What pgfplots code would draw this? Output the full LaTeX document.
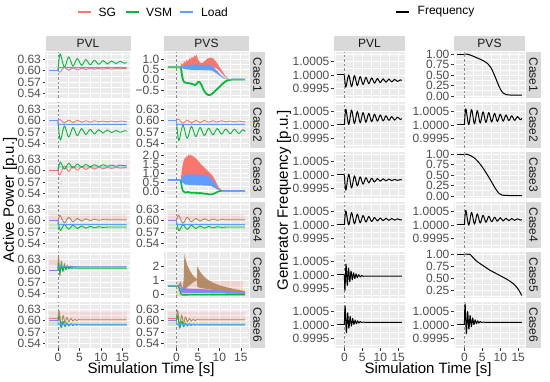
\documentclass[border=0pt]{standalone}
\usepackage{pgfplots}
\pgfplotsset{compat=1.18}
\usepackage{fontspec}
\setmainfont{Liberation Sans}
\definecolor{pbg}{HTML}{EBEBEB}
\definecolor{sbg}{HTML}{D9D9D9}
\definecolor{tlc}{HTML}{4D4D4D}
\definecolor{tickc}{HTML}{333333}
\definecolor{stc}{HTML}{1A1A1A}
\definecolor{dashc}{HTML}{8A8A8A}
\definecolor{sg}{HTML}{F8766D}
\definecolor{vsm}{HTML}{00BA38}
\definecolor{ld}{HTML}{619CFF}
\definecolor{mix}{HTML}{B0845A}
\definecolor{purp}{HTML}{8E80F0}
\newcommand{\tickfont}{\fontsize{12}{12}\selectfont}
\newcommand{\sfont}{\fontsize{12}{12}\selectfont}
\newcommand{\tfont}{\fontsize{15}{15}\selectfont}
\pgfplotsset{
 pan/.style={scale only axis, anchor=north west, height=46pt,
   xmin=-2.9, xmax=16.9,
   axis background/.style={fill=pbg},
   axis line style={draw=none},
   xtick={0,5,10,15}, minor xtick={-2.5,2.5,7.5,12.5}, xticklabels={},
   xmajorgrids=true, ymajorgrids=true, xminorgrids=true, yminorgrids=true,
   major grid style={draw=white, line width=0.8pt},
   minor grid style={draw=white, line width=0.4pt},
   tick align=outside, tick pos=left,
   major tick length=2.8pt, minor tick length=0pt,
   tick style={draw=tickc, line width=0.6pt},
   xtick style={draw=none},
   scaled y ticks=false, scaled x ticks=false,
   yticklabel style={font=\tickfont, text=tlc, inner sep=0pt, text height=8.4pt, text depth=0pt, xshift=-1.6pt},
   xticklabel style={font=\tickfont, text=tlc, inner sep=0pt, text height=8.4pt, text depth=0pt, yshift=-1.8pt},
   extra x ticks={0}, extra x tick labels={},
   extra x tick style={xmajorgrids=true, major grid style={draw=dashc, dash pattern=on 2.5pt off 2pt, line width=0.6pt}, major tick length=0pt},
 },
 bot/.style={xticklabels={0,5,10,15}, xtick style={draw=tickc, line width=0.6pt}},
 lw/.style={width=85pt}, rw/.style={width=71pt},
 ln/.style={line width=0.9pt, line join=round},
 fl/.style={black, line width=1pt, line join=round},
 pw/.style={ymin=0.527, ymax=0.65, ytick={0.54,0.57,0.6,0.63}, yticklabels={0.54,0.57,0.60,0.63}, minor ytick={0.555,0.585,0.615,0.645}},
 fq/.style={ymin=0.99915, ymax=1.00085, ytick={0.9995,1,1.0005}, yticklabels={0.9995,1.0000,1.0005}, minor ytick={0.99925,0.99975,1.00025,1.00075}},
 fs/.style={ymin=-0.05, ymax=1.05, ytick={0,0.25,0.5,0.75,1}, yticklabels={0.00,0.25,0.50,0.75,1.00}, minor ytick={0.125,0.375,0.625,0.875}},
}
\newcommand{\tstrip}[3]{\fill[sbg] (#1pt,331pt) rectangle ({(#1+#2)*1pt},346pt); \node[font=\sfont,text=stc] at ({(#1+#2/2)*1pt},338.5pt) {#3};}
\newcommand{\rstrip}[3]{\fill[sbg] (#1pt,{(#2-46)*1pt}) rectangle ({(#1+15)*1pt},#2pt); \node[font=\sfont,text=stc,rotate=-90] at ({(#1+7.5)*1pt},{(#2-23)*1pt}) {#3};}
\begin{document}
\begin{tikzpicture}
\path[use as bounding box] (0pt,0pt) rectangle (550pt,382pt);
% ---------------- legends and titles
\draw[draw=sg, line width=1.5pt] (77.5pt,370pt) -- (90.5pt,370pt);
\node[anchor=west, font=\sfont, inner sep=0pt] at (98.5pt,370pt) {SG};
\draw[draw=vsm, line width=1.5pt] (126pt,370pt) -- (139pt,370pt);
\node[anchor=west, font=\sfont, inner sep=0pt] at (146pt,370pt) {VSM};
\draw[draw=ld, line width=1.5pt] (180pt,370pt) -- (193pt,370pt);
\node[anchor=west, font=\sfont, inner sep=0pt] at (201pt,370pt) {Load};
\draw[draw=black, line width=1.5pt] (395.5pt,370pt) -- (408.5pt,370pt);
\node[anchor=west, font=\sfont, inner sep=0pt] at (417.5pt,370pt) {Frequency};
\node[font=\tfont, inner sep=0pt] at (151pt,12pt) {Simulation Time [s]};
\node[font=\tfont, inner sep=0pt] at (428pt,12pt) {Simulation Time [s]};
\node[font=\tfont, rotate=90, inner sep=0pt] at (10pt,182pt) {Active Power [p.u.]};
\node[font=\tfont, rotate=90, inner sep=0pt] at (284pt,182pt) {Generator Frequency [p.u.]};
% strips
\tstrip{45.5}{85}{PVL}
\tstrip{164}{85}{PVS}
\tstrip{334}{71}{PVL}
\tstrip{454}{71}{PVS}
\rstrip{250}{330}{Case1}\rstrip{250}{280}{Case2}\rstrip{250}{230}{Case3}
\rstrip{250}{180}{Case4}\rstrip{250}{130}{Case5}\rstrip{250}{80}{Case6}
\rstrip{526}{330}{Case1}\rstrip{526}{280}{Case2}\rstrip{526}{230}{Case3}
\rstrip{526}{180}{Case4}\rstrip{526}{130}{Case5}\rstrip{526}{80}{Case6}

% ================= ROW 1 =================
\begin{axis}[pan,lw,pw,at={(45.5pt,330pt)}]
\addplot[sg,ln] coordinates {(-2,0.6)(0,0.6)};
\addplot[vsm,ln] coordinates {(-2,0.6)(0,0.6)};
\addplot[ld,ln] coordinates {(-2,0.6)(0,0.6)};
\addplot[sg,ln,smooth] coordinates {(0,0.600)(0.5,0.596)(1.5,0.609)(2.5,0.601)(3.5,0.608)(4.5,0.602)(5.5,0.607)(6.5,0.603)(7.5,0.607)(8.5,0.604)(9.5,0.606)(10.5,0.604)(11.5,0.606)(12.5,0.604)(13.5,0.606)(14.5,0.605)(15.5,0.606)(16,0.605)};
\addplot[vsm,ln,smooth] coordinates {(0,0.600)(0.5,0.645)(1.5,0.609)(2.5,0.637)(3.5,0.612)(4.5,0.633)(5.5,0.614)(6.5,0.630)(7.5,0.616)(8.5,0.628)(9.5,0.617)(10.5,0.627)(11.5,0.618)(12.5,0.626)(13.5,0.619)(14.5,0.625)(15.5,0.620)(16,0.622)};
\addplot[ld,ln] coordinates {(0,0.6)(0.02,0.608)(16,0.608)};
\end{axis}

\begin{axis}[pan,lw,at={(164pt,330pt)}, ymin=-0.9, ymax=1.35, ytick={-0.5,0,0.5,1}, yticklabels={−0.5,0.0,0.5,1.0}, minor ytick={-0.75,-0.25,0.25,0.75,1.25}]
\addplot[fill=sg, draw=none] coordinates {(0.9,0.62)(1.2,0.8)(1.5,0.72)(1.8,0.9)(2.1,0.82)(2.4,0.98)(2.7,0.9)(3.0,1.05)(3.3,0.98)(3.6,1.12)(3.9,1.05)(4.2,1.18)(4.5,1.12)(4.7,1.22)(4.9,1.05)(5.2,0.92)(5.6,0.82)(6.0,0.8)(6.4,0.88)(6.8,0.95)(7.2,1.02)(7.6,1.06)(8.0,1.08)(8.4,1.05)(8.8,0.98)(9.2,0.88)(9.6,0.76)(10.0,0.62)(10.5,0.47)(11.0,0.3)(11.5,0.15)(12.0,0.05)(12.5,0.01)(12.5,0.0)(12,0.03)(11.5,0.1)(11,0.2)(10.5,0.32)(10,0.43)(9.5,0.52)(9,0.58)(8.5,0.6)(7,0.6)(5,0.6)(3,0.6)(1.5,0.6)(0.9,0.6)} -- cycle;
\addplot[fill=ld, draw=none] coordinates {(1.0,0.62)(1.5,0.68)(2,0.7)(2.5,0.72)(3,0.7)(3.5,0.74)(4,0.72)(4.5,0.76)(5,0.72)(5.5,0.7)(6,0.7)(6.5,0.72)(7,0.73)(7.5,0.72)(8,0.7)(8.5,0.62)(9,0.52)(9.5,0.42)(10,0.3)(10.5,0.19)(11,0.1)(11.5,0.04)(12,0.01)(12,0)(11.5,0.02)(11,0.06)(10.5,0.12)(10,0.2)(9.5,0.28)(9,0.35)(8.5,0.42)(8,0.45)(6,0.46)(4,0.47)(2,0.5)(1.5,0.55)(1,0.6)} -- cycle;
\addplot[sg,ln] coordinates {(-2,0.6)(0.9,0.6)};
\addplot[sg,ln] coordinates {(12.5,0)(16,0)};
\addplot[vsm,line width=1.8pt,line join=round] coordinates {(-2,0.6)(0.9,0.6)(1.1,0.5)(1.3,0.2)(1.5,0.0)(1.7,-0.1)(2.0,-0.14)(2.5,-0.17)(3.0,-0.18)(3.5,-0.2)(4.0,-0.24)(4.4,-0.27)(4.8,-0.18)(5.1,-0.1)(5.4,-0.12)(5.8,-0.25)(6.2,-0.45)(6.6,-0.6)(7.0,-0.7)(7.5,-0.76)(8.0,-0.74)(8.5,-0.66)(9.0,-0.56)(9.5,-0.46)(10.0,-0.36)(10.5,-0.26)(11.0,-0.16)(11.5,-0.08)(12.0,-0.03)(12.5,-0.01)(13,0)(16,0)};
\addplot[ld,ln] coordinates {(-2,0.6)(1.0,0.6)};
\addplot[ld,ln] coordinates {(12,0)(16,0)};
\end{axis}

\begin{axis}[pan,rw,fq,at={(334pt,330pt)}]
\addplot[fl] coordinates {(-2,1)(0,1)};
\addplot[fl,smooth] coordinates {(0,1.0)(0.4,0.99955)(1.2,1.0)(2.0,0.99957)(2.8,0.99998)(3.6,0.99961)(4.4,0.99994)(5.2,0.99965)(6.0,0.99991)(6.8,0.99968)(7.6,0.99989)(8.4,0.9997)(9.2,0.99987)(10.0,0.99972)(10.8,0.99986)(11.6,0.99973)(12.4,0.99985)(13.2,0.99974)(14.0,0.99984)(14.8,0.99976)(15.6,0.99982)(16,0.9998)};
\end{axis}

\begin{axis}[pan,rw,fs,at={(454pt,330pt)}]
\addplot[fl] coordinates {(-2,1)(0,1)};
\addplot[fl,smooth] coordinates {(0,1)(1,0.995)(2,0.965)(3.5,0.91)(5.3,0.84)(6.5,0.77)(7.3,0.69)(8.0,0.57)(8.7,0.43)(9.4,0.28)(10.1,0.15)(10.8,0.07)(11.5,0.035)(12.5,0.022)(14,0.02)(16,0.02)};
\end{axis}

% ================= ROW 2 =================
\begin{axis}[pan,lw,pw,at={(45.5pt,280pt)}]
\addplot[sg,ln] coordinates {(-2,0.6)(0,0.6)};
\addplot[vsm,ln] coordinates {(-2,0.6)(0,0.6)};
\addplot[ld,ln] coordinates {(-2,0.6)(0,0.6)};
\addplot[sg,ln,smooth] coordinates {(0,0.600)(0.5,0.603)(1.5,0.594)(2.5,0.602)(3.5,0.595)(4.5,0.601)(5.5,0.596)(6.5,0.600)(7.5,0.596)(8.5,0.600)(9.5,0.597)(10.5,0.599)(11.5,0.597)(12.5,0.599)(13.5,0.597)(14.5,0.599)(15.5,0.598)(16,0.598)};
\addplot[vsm,ln,smooth] coordinates {(0,0.600)(0.55,0.548)(1.5,0.586)(2.5,0.556)(3.5,0.582)(4.5,0.560)(5.5,0.579)(6.5,0.563)(7.5,0.577)(8.5,0.565)(9.5,0.576)(10.5,0.567)(11.5,0.575)(12.5,0.568)(13.5,0.574)(14.5,0.569)(15.5,0.573)(16,0.572)};
\addplot[ld,ln] coordinates {(0,0.6)(0.02,0.59)(16,0.59)};
\end{axis}

\begin{axis}[pan,lw,pw,at={(164pt,280pt)}]
\addplot[sg,ln] coordinates {(-2,0.6)(0,0.6)};
\addplot[vsm,ln] coordinates {(-2,0.6)(0,0.6)};
\addplot[ld,ln] coordinates {(-2,0.6)(0,0.6)};
\addplot[sg,ln,smooth] coordinates {(0,0.600)(0.5,0.604)(1.5,0.593)(2.5,0.602)(3.5,0.594)(4.5,0.601)(5.5,0.595)(6.5,0.601)(7.5,0.596)(8.5,0.600)(9.5,0.596)(10.5,0.600)(11.5,0.597)(12.5,0.599)(13.5,0.597)(14.5,0.599)(15.5,0.597)(16,0.598)};
\addplot[vsm,ln,smooth] coordinates {(0,0.600)(0.55,0.547)(1.5,0.588)(2.5,0.553)(3.5,0.585)(4.5,0.557)(5.5,0.582)(6.5,0.560)(7.5,0.580)(8.5,0.562)(9.5,0.579)(10.5,0.564)(11.5,0.578)(12.5,0.565)(13.5,0.577)(14.5,0.566)(15.5,0.576)(16,0.571)};
\addplot[ld,ln] coordinates {(0,0.6)(0.02,0.59)(16,0.59)};
\end{axis}

\begin{axis}[pan,rw,fq,at={(334pt,280pt)}]
\addplot[fl] coordinates {(-2,1)(0,1)};
\addplot[fl,smooth] coordinates {(0,1.0)(0.4,1.00058)(1.2,1.00002)(2.0,1.00055)(2.8,1.00005)(3.6,1.0005)(4.4,1.00008)(5.2,1.00046)(6.0,1.0001)(6.8,1.00043)(7.6,1.00012)(8.4,1.0004)(9.2,1.00014)(10.0,1.00037)(10.8,1.00015)(11.6,1.00034)(12.4,1.00017)(13.2,1.00031)(14.0,1.00018)(14.8,1.00029)(15.6,1.0002)(16,1.00024)};
\end{axis}

\begin{axis}[pan,rw,fq,at={(454pt,280pt)}]
\addplot[fl] coordinates {(-2,1)(0,1)};
\addplot[fl,smooth] coordinates {(0,1.0)(0.4,1.0006)(1.2,1.00001)(2.0,1.00057)(2.8,1.00004)(3.6,1.00053)(4.4,1.00007)(5.2,1.00049)(6.0,1.00009)(6.8,1.00046)(7.6,1.00011)(8.4,1.00043)(9.2,1.00013)(10.0,1.0004)(10.8,1.00014)(11.6,1.00037)(12.4,1.00016)(13.2,1.00034)(14.0,1.00017)(14.8,1.00031)(15.6,1.00019)(16,1.00025)};
\end{axis}

% ================= ROW 3 =================
\begin{axis}[pan,lw,pw,at={(45.5pt,230pt)}]
\addplot[vsm,ln] coordinates {(-2,0.6)(0,0.6)};
\addplot[ld,ln] coordinates {(-2,0.6)(0,0.6)};
\addplot[sg,ln] coordinates {(-2,0.6)(0,0.6)};
\addplot[ld,ln] coordinates {(0,0.6)(0.02,0.61)(16,0.61)};
\addplot[sg,ln,smooth] coordinates {(0,0.600)(0.45,0.589)(1.5,0.613)(2.5,0.598)(3.5,0.612)(4.5,0.601)(5.5,0.611)(6.5,0.603)(7.5,0.610)(8.5,0.604)(9.5,0.610)(10.5,0.605)(11.5,0.609)(12.5,0.606)(13.5,0.609)(14.5,0.607)(15.5,0.608)(16,0.608)};
\addplot[vsm,ln,smooth] coordinates {(0,0.600)(0.55,0.623)(1.5,0.604)(2.5,0.620)(3.5,0.607)(4.5,0.618)(5.5,0.609)(6.5,0.617)(7.5,0.610)(8.5,0.616)(9.5,0.611)(10.5,0.616)(11.5,0.612)(12.5,0.615)(13.5,0.612)(14.5,0.615)(15.5,0.613)(16,0.614)};
\end{axis}

\begin{axis}[pan,lw,at={(164pt,230pt)}, ymin=-0.4, ymax=2.17, ytick={0,0.5,1,1.5,2}, yticklabels={0.0,0.5,1.0,1.5,2.0}, minor ytick={-0.25,0.25,0.75,1.25,1.75}]
\addplot[fill=vsm, fill opacity=0.15, draw=none] coordinates {(1.5,-0.02)(4,-0.05)(8,-0.12)(10,0)(10,-0.05)(8,-0.26)(4,-0.22)(1.5,-0.15)} -- cycle;
\addplot[fill=sg, draw=none] coordinates {(1.0,0.62)(1.2,1.0)(1.4,1.4)(1.6,1.6)(1.8,1.75)(2.0,1.88)(2.2,1.8)(2.4,1.97)(2.6,1.9)(2.8,2.03)(3.0,1.95)(3.2,2.02)(3.4,1.96)(3.6,2.0)(3.8,1.92)(4.0,1.93)(4.3,1.85)(4.6,1.8)(5.0,1.68)(5.5,1.55)(6.0,1.42)(6.5,1.3)(7.0,1.18)(7.5,1.06)(8.0,0.95)(8.5,0.82)(9.0,0.6)(9.5,0.35)(10.0,0.15)(10.5,0.04)(11,0.0)(10,0.05)(9,0.25)(8,0.45)(6,0.55)(4,0.6)(2,0.6)(1,0.6)} -- cycle;
\addplot[fill=ld, draw=none] coordinates {(1.0,0.6)(1.5,0.8)(2,0.88)(2.5,0.92)(3,0.9)(3.5,0.95)(4,0.9)(4.5,0.93)(5,0.9)(6,0.88)(7,0.86)(7.5,0.82)(8,0.7)(8.5,0.55)(9,0.38)(9.5,0.2)(10,0.07)(10.5,0.01)(10.5,0)(10,0.02)(9.5,0.08)(9,0.15)(8.5,0.22)(8,0.28)(6,0.3)(4,0.32)(2,0.35)(1.5,0.45)(1,0.58)} -- cycle;
\addplot[sg,ln] coordinates {(-2,0.6)(1,0.6)};
\addplot[sg,ln] coordinates {(11,0)(16,0)};
\addplot[vsm,line width=1.6pt,line join=round] coordinates {(-2,0.6)(0.9,0.6)(1.1,0.45)(1.3,0.15)(1.5,0.0)(1.8,-0.06)(2.2,-0.1)(2.6,-0.06)(3.0,-0.08)(3.5,-0.12)(4.0,-0.1)(4.5,-0.11)(5.0,-0.13)(5.5,-0.12)(6.0,-0.14)(6.5,-0.16)(7.0,-0.17)(7.5,-0.19)(8.0,-0.2)(8.5,-0.18)(9.0,-0.13)(9.5,-0.07)(10.0,-0.02)(10.5,0)(16,0)};
\addplot[ld,ln] coordinates {(-2,0.6)(1,0.6)};
\addplot[ld,ln] coordinates {(10.5,0)(16,0)};
\end{axis}

\begin{axis}[pan,rw,fq,at={(334pt,230pt)}]
\addplot[fl] coordinates {(-2,1)(0,1)};
\addplot[fl,smooth] coordinates {(0,1.0)(0.4,0.99944)(1.2,1.00003)(2.0,0.99952)(2.8,0.99997)(3.6,0.9996)(4.4,0.99993)(5.2,0.99966)(6.0,0.9999)(6.8,0.99971)(7.6,0.99988)(8.4,0.99974)(9.2,0.99987)(10.0,0.99977)(10.8,0.99986)(11.6,0.99978)(12.4,0.99985)(13.2,0.99979)(14.0,0.99984)(14.8,0.9998)(15.6,0.99983)(16,0.99982)};
\end{axis}

\begin{axis}[pan,rw,fs,at={(454pt,230pt)}]
\addplot[fl] coordinates {(-2,1)(0,1)};
\addplot[fl,smooth] coordinates {(0,1)(1,0.99)(2,0.95)(3,0.89)(4,0.8)(5,0.69)(6,0.56)(7,0.42)(8,0.27)(9,0.13)(9.8,0.05)(10.5,0.02)(12,0.01)(16,0.008)};
\end{axis}

% ================= ROW 4 =================
\begin{axis}[pan,lw,pw,at={(45.5pt,180pt)}]
\addplot[fill=sg, fill opacity=0.15, draw=none] coordinates {(-2,0.601)(-2,0.617)(16,0.617)(16,0.601)} -- cycle;
\addplot[fill=vsm, fill opacity=0.12, draw=none] coordinates {(-2,0.577)(-2,0.59)(16,0.59)(16,0.577)} -- cycle;
\addplot[mix,ln] coordinates {(-2,0.6)(0,0.6)};
\addplot[mix,ln,smooth] coordinates {(0,0.600)(0.5,0.614)(1.5,0.594)(2.5,0.609)(3.5,0.597)(4.5,0.606)(5.5,0.599)(6.5,0.605)(7.5,0.600)(8.5,0.604)(9.5,0.601)(10.5,0.603)(11.5,0.602)(12.5,0.602)(16,0.602)};
\addplot[vsm,ln,smooth] coordinates {(0,0.600)(0.55,0.574)(1.5,0.590)(2.5,0.577)(3.5,0.588)(4.5,0.579)(5.5,0.586)(6.5,0.580)(7.5,0.585)(8.5,0.581)(9.5,0.584)(10.5,0.582)(11.5,0.583)(12.5,0.583)(16,0.583)};
\addplot[purp,ln] coordinates {(-2,0.6)(0,0.6)};
\addplot[ld,ln] coordinates {(0,0.6)(0.02,0.59)(16,0.59)};
\end{axis}

\begin{axis}[pan,lw,pw,at={(164pt,180pt)}]
\addplot[fill=sg, fill opacity=0.15, draw=none] coordinates {(-2,0.601)(-2,0.617)(16,0.617)(16,0.601)} -- cycle;
\addplot[fill=vsm, fill opacity=0.12, draw=none] coordinates {(-2,0.577)(-2,0.59)(16,0.59)(16,0.577)} -- cycle;
\addplot[mix,ln] coordinates {(-2,0.6)(0,0.6)};
\addplot[mix,ln,smooth] coordinates {(0,0.600)(0.5,0.615)(1.5,0.593)(2.5,0.609)(3.5,0.597)(4.5,0.606)(5.5,0.599)(6.5,0.605)(7.5,0.600)(8.5,0.604)(9.5,0.601)(10.5,0.603)(11.5,0.602)(12.5,0.602)(16,0.602)};
\addplot[vsm,ln,smooth] coordinates {(0,0.600)(0.55,0.573)(1.5,0.589)(2.5,0.577)(3.5,0.588)(4.5,0.579)(5.5,0.586)(6.5,0.580)(7.5,0.585)(8.5,0.581)(9.5,0.584)(10.5,0.582)(11.5,0.583)(12.5,0.583)(16,0.583)};
\addplot[purp,ln] coordinates {(-2,0.6)(0,0.6)};
\addplot[ld,ln] coordinates {(0,0.6)(0.02,0.59)(16,0.59)};
\end{axis}

\begin{axis}[pan,rw,fq,at={(334pt,180pt)}]
\addplot[fl] coordinates {(-2,1)(0,1)};
\addplot[fl,smooth] coordinates {(0,1.0)(0.4,1.00052)(1.2,1.0)(2.0,1.00046)(2.8,1.00004)(3.6,1.0004)(4.4,1.00008)(5.2,1.00035)(6.0,1.00011)(6.8,1.00031)(7.6,1.00013)(8.4,1.00028)(9.2,1.00015)(10.0,1.00026)(10.8,1.00016)(11.6,1.00025)(12.4,1.00017)(13.2,1.00024)(14.0,1.00018)(14.8,1.00023)(15.6,1.00019)(16,1.0002)};
\end{axis}

\begin{axis}[pan,rw,fq,at={(454pt,180pt)}]
\addplot[fl] coordinates {(-2,1)(0,1)};
\addplot[fl,smooth] coordinates {(0,1.0)(0.4,1.00054)(1.2,0.99999)(2.0,1.00047)(2.8,1.00003)(3.6,1.00041)(4.4,1.00007)(5.2,1.00036)(6.0,1.0001)(6.8,1.00032)(7.6,1.00012)(8.4,1.00029)(9.2,1.00014)(10.0,1.00027)(10.8,1.00015)(11.6,1.00025)(12.4,1.00016)(13.2,1.00024)(14.0,1.00017)(14.8,1.00023)(15.6,1.00018)(16,1.0002)};
\end{axis}

% ================= ROW 5 =================
\begin{axis}[pan,lw,pw,at={(45.5pt,130pt)}]
\addplot[fill=sg, fill opacity=0.18, draw=none] coordinates {(-2,0.612)(-2,0.632)(0,0.632)(0,0.612)} -- cycle;
\addplot[mix,ln] coordinates {(-2,0.6)(0,0.6)};
\addplot[mix,ln,smooth] coordinates {(0,0.600)(0.15,0.637)(0.45,0.586)(0.8,0.626)(1.15,0.597)(1.5,0.619)(1.85,0.603)(2.2,0.615)(2.55,0.606)(2.9,0.613)(3.25,0.608)(3.6,0.612)(4.0,0.609)(4.5,0.611)(5.5,0.610)(16,0.610)};
\addplot[vsm,ln,smooth] coordinates {(0,0.600)(0.15,0.622)(0.45,0.594)(0.8,0.615)(1.15,0.600)(1.5,0.612)(1.85,0.603)(2.2,0.610)(2.55,0.605)(2.9,0.609)(3.25,0.606)(3.6,0.608)(4.0,0.607)(4.5,0.607)(5.5,0.607)(16,0.607)};
\addplot[purp,ln] coordinates {(-2,0.6)(0,0.6)};
\addplot[ld,ln] coordinates {(0,0.6)(0.02,0.612)(16,0.612)};
\end{axis}

\begin{axis}[pan,lw,at={(164pt,130pt)}, ymin=-0.25, ymax=3.05, ytick={0,1,2}, yticklabels={0,1,2}, minor ytick={0.5,1.5,2.5}]
\addplot[fill=sg, fill opacity=0.2, draw=none] coordinates {(0,0)(0,1.0)(15.5,1.0)(15.5,0)} -- cycle;
\addplot[fill=vsm, fill opacity=0.15, draw=none] coordinates {(0,-0.12)(0,0.05)(16,0.05)(16,-0.12)} -- cycle;
\addplot[fill=mix, fill opacity=0.9, draw=none] coordinates {(0.3,0.6)(0.6,0.75)(0.9,0.9)(1.2,0.7)(1.5,0.35)(1.7,1.2)(1.85,2.9)(2.0,2.7)(2.3,2.35)(2.6,2.05)(3.0,1.78)(3.4,1.57)(3.8,1.4)(4.2,1.27)(4.6,1.15)(4.75,1.1)(4.85,2.0)(5.0,1.95)(5.3,1.75)(5.7,1.55)(6.2,1.36)(6.8,1.18)(7.5,1.02)(8.5,0.85)(9.5,0.72)(10.5,0.62)(11.5,0.53)(12.5,0.46)(13.5,0.39)(14.5,0.33)(15.5,0.27)(16,0.24)(16,0.12)(15,0.15)(14,0.17)(13,0.2)(12,0.22)(11,0.25)(10,0.28)(9,0.32)(8,0.36)(7,0.4)(6,0.45)(5.2,0.5)(4.85,0.6)(4.75,1.0)(4.2,0.95)(3.6,0.8)(3.0,0.65)(2.4,0.5)(1.9,0.35)(1.7,0.3)(1.5,0.3)(1.2,0.5)(0.9,0.6)(0.6,0.6)} -- cycle;
\addplot[fill=purp, draw=none] coordinates {(1.0,0.55)(1.5,0.5)(2,0.45)(3,0.42)(4,0.4)(5,0.4)(6,0.38)(8,0.35)(10,0.3)(12,0.25)(14,0.2)(16,0.15)(16,0.05)(12,0.07)(8,0.09)(4,0.1)(2,0.1)(1.5,0.12)(1,0.2)} -- cycle;
\addplot[sg,ln] coordinates {(-2,0.6)(0.3,0.6)};
\addplot[vsm,line width=1.4pt,line join=round] coordinates {(-2,0.6)(0.5,0.6)(0.8,0.3)(1.1,0.02)(1.5,-0.03)(3,-0.02)(16,-0.01)};
\addplot[ld,ln] coordinates {(-2,0.6)(0.7,0.6)(1.0,0.3)(1.5,0.22)(3,0.2)(6,0.18)(10,0.15)(16,0.1)};
\end{axis}

\begin{axis}[pan,rw,fq,at={(334pt,130pt)}]
\addplot[fl] coordinates {(-2,1)(0,1)};
\addplot[fl,smooth] coordinates {(0,1.0)(0.15,0.99942)(0.45,1.0004)(0.8,0.99962)(1.15,1.00025)(1.5,0.99975)(1.85,1.00014)(2.2,0.99982)(2.55,1.00008)(2.9,0.99987)(3.25,1.00004)(3.6,0.9999)(4.0,1.00001)(4.4,0.99993)(4.8,0.99998)(5.3,0.99995)(6,0.99996)(16,0.99996)};
\end{axis}

\begin{axis}[pan,rw,at={(454pt,130pt)}, ymin=0.087, ymax=1.043, ytick={0.25,0.5,0.75,1}, yticklabels={0.25,0.50,0.75,1.00}, minor ytick={0.125,0.375,0.625,0.875}]
\addplot[fl] coordinates {(-2,1)(0,1)};
\addplot[fl,smooth] coordinates {(0,1)(0.6,1.0)(1.0,0.993)(1.3,1.0)(1.7,0.985)(2.3,0.94)(3,0.88)(4,0.82)(5,0.77)(6,0.72)(7,0.67)(8,0.63)(9,0.59)(10,0.55)(11,0.51)(12,0.47)(13,0.42)(14,0.36)(15,0.27)(16,0.14)};
\end{axis}

% ================= ROW 6 =================
\begin{axis}[pan,lw,pw,bot,at={(45.5pt,80pt)}]
\addplot[fill=sg, fill opacity=0.15, draw=none] coordinates {(-2,0.603)(-2,0.624)(16,0.624)(16,0.603)} -- cycle;
\addplot[fill=vsm, fill opacity=0.12, draw=none] coordinates {(-2,0.585)(-2,0.596)(16,0.596)(16,0.585)} -- cycle;
\addplot[sg,ln] coordinates {(-2,0.607)(0,0.607)};
\addplot[mix,ln,smooth] coordinates {(0,0.607)(0.3,0.625)(0.75,0.587)(1.2,0.614)(1.65,0.594)(2.1,0.609)(2.55,0.597)(3.0,0.606)(3.45,0.599)(3.9,0.604)(4.35,0.600)(4.8,0.603)(5.3,0.602)(6,0.602)(16,0.602)};
\addplot[vsm,ln,smooth] coordinates {(0,0.600)(0.3,0.612)(0.75,0.581)(1.2,0.598)(1.65,0.584)(2.1,0.594)(2.55,0.586)(3.0,0.592)(3.45,0.587)(3.9,0.591)(4.35,0.588)(4.8,0.590)(5.3,0.589)(6,0.589)(16,0.589)};
\addplot[purp,ln] coordinates {(-2,0.6)(0,0.6)};
\addplot[ld,ln] coordinates {(0,0.6)(0.02,0.59)(16,0.59)};
\end{axis}

\begin{axis}[pan,lw,pw,bot,at={(164pt,80pt)}]
\addplot[fill=sg, fill opacity=0.15, draw=none] coordinates {(-2,0.603)(-2,0.624)(16,0.624)(16,0.603)} -- cycle;
\addplot[fill=vsm, fill opacity=0.12, draw=none] coordinates {(-2,0.585)(-2,0.596)(16,0.596)(16,0.585)} -- cycle;
\addplot[sg,ln] coordinates {(-2,0.607)(0,0.607)};
\addplot[mix,ln,smooth] coordinates {(0,0.607)(0.3,0.627)(0.75,0.586)(1.2,0.615)(1.65,0.593)(2.1,0.610)(2.55,0.597)(3.0,0.606)(3.45,0.599)(3.9,0.604)(4.35,0.600)(4.8,0.603)(5.3,0.602)(6,0.602)(16,0.602)};
\addplot[vsm,ln,smooth] coordinates {(0,0.600)(0.3,0.613)(0.75,0.580)(1.2,0.599)(1.65,0.584)(2.1,0.594)(2.55,0.586)(3.0,0.592)(3.45,0.587)(3.9,0.591)(4.35,0.588)(4.8,0.590)(5.3,0.589)(6,0.589)(16,0.589)};
\addplot[purp,ln] coordinates {(-2,0.6)(0,0.6)};
\addplot[ld,ln] coordinates {(0,0.6)(0.02,0.59)(16,0.59)};
\end{axis}

\begin{axis}[pan,rw,fq,bot,at={(334pt,80pt)}]
\addplot[fl] coordinates {(-2,1)(0,1)};
\addplot[fl,smooth] coordinates {(0,1.0)(0.2,1.0007)(0.55,0.99972)(0.9,1.00045)(1.25,0.99988)(1.6,1.00032)(1.95,0.99996)(2.3,1.00024)(2.65,1.00002)(3.0,1.00018)(3.35,1.00005)(3.7,1.00015)(4.05,1.00007)(4.4,1.00013)(4.8,1.00009)(5.3,1.00011)(6,1.0001)(16,1.0001)};
\end{axis}

\begin{axis}[pan,rw,fq,bot,at={(454pt,80pt)}]
\addplot[fl] coordinates {(-2,1)(0,1)};
\addplot[fl,smooth] coordinates {(0,1.0)(0.2,1.00078)(0.55,0.99968)(0.9,1.0005)(1.25,0.99985)(1.6,1.00035)(1.95,0.99994)(2.3,1.00026)(2.65,1.00001)(3.0,1.00019)(3.35,1.00005)(3.7,1.00015)(4.05,1.00007)(4.4,1.00013)(4.8,1.00009)(5.3,1.00011)(6,1.0001)(16,1.0001)};
\end{axis}
\end{tikzpicture}
\end{document}
